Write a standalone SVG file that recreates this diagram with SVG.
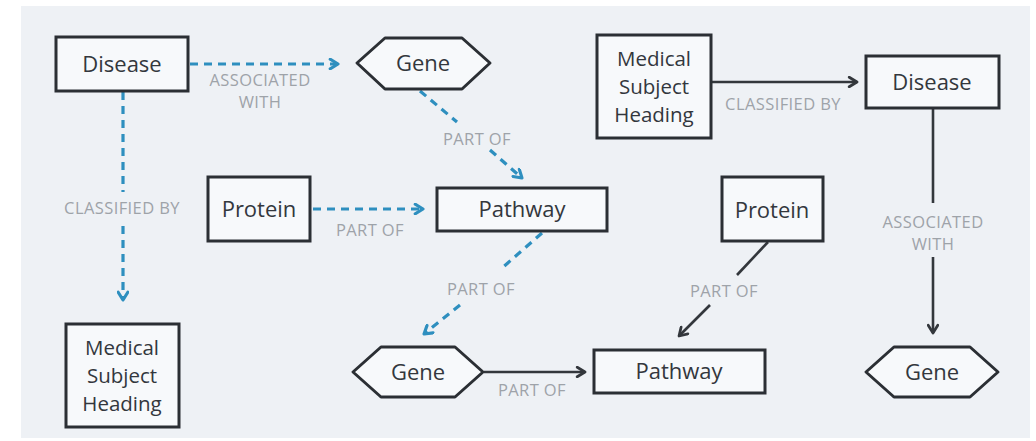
<svg xmlns="http://www.w3.org/2000/svg" width="1036" height="441" viewBox="0 0 1036 441">
<defs>
<style>
.box{fill:#f7f9fb;stroke:#2b2f34;stroke-width:3}
.nt{font-family:"Open Sans","Noto Sans",sans-serif;font-size:22px;font-weight:500;fill:#33373d;text-anchor:middle}
.ms{font-size:20.5px}
.lb{font-family:"Open Sans","Noto Sans",sans-serif;font-size:16.5px;font-weight:500;fill:#9ea3a9;text-anchor:middle;letter-spacing:0.4px}
.dash{fill:none;stroke:#2e8fbf;stroke-width:3.2;stroke-dasharray:8 6}
.solid{fill:none;stroke:#33373c;stroke-width:2.6}
</style>
<marker id="ab" viewBox="0 0 10 10" refX="8.5" refY="5" markerWidth="12" markerHeight="12" markerUnits="userSpaceOnUse" orient="auto">
<path d="M2,1 L8.5,5 L2,9" fill="none" stroke="#2e8fbf" stroke-width="2.6" stroke-linecap="round" stroke-linejoin="round"/>
</marker>
<marker id="ak" viewBox="0 0 10 10" refX="8.5" refY="5" markerWidth="12" markerHeight="12" markerUnits="userSpaceOnUse" orient="auto">
<path d="M2,1 L8.5,5 L2,9" fill="none" stroke="#33373c" stroke-width="2.3" stroke-linecap="round" stroke-linejoin="round"/>
</marker>
</defs>
<rect x="0" y="0" width="1036" height="441" fill="#ffffff"/>
<rect x="21" y="6" width="1009" height="432" fill="#eef1f5"/>

<g id="connectors">
<path class="dash" d="M190,64 H338" marker-end="url(#ab)"/>
<path class="dash" d="M123,92 V192"/>
<path class="dash" d="M123,226 V300" marker-end="url(#ab)"/>
<path class="dash" d="M420,91 L457,122"/>
<path class="dash" d="M490,150 L522,178" marker-end="url(#ab)"/>
<path class="dash" d="M313,209 H423" marker-end="url(#ab)"/>
<path class="dash" d="M542,233 L502,268"/>
<path class="dash" d="M460,305 L424,334" marker-end="url(#ab)"/>
<path class="solid" d="M484,372 H585" marker-end="url(#ak)"/>
<path class="solid" d="M768,242 L737,275"/>
<path class="solid" d="M710,305 L679,336" marker-end="url(#ak)"/>
<path class="solid" d="M712,82 H857" marker-end="url(#ak)"/>
<path class="solid" d="M933,109 V203"/>
<path class="solid" d="M933,257 V333" marker-end="url(#ak)"/>
</g>

<g id="labels">
<text class="lb" x="260" y="86">ASSOCIATED</text>
<text class="lb" x="260" y="108">WITH</text>
<text class="lb" x="122" y="214">CLASSIFIED BY</text>
<text class="lb" x="477" y="145">PART OF</text>
<text class="lb" x="370" y="236">PART OF</text>
<text class="lb" x="481" y="295">PART OF</text>
<text class="lb" x="532" y="396">PART OF</text>
<text class="lb" x="724" y="297">PART OF</text>
<text class="lb" x="783" y="110">CLASSIFIED BY</text>
<text class="lb" x="933" y="228">ASSOCIATED</text>
<text class="lb" x="933" y="250">WITH</text>
</g>

<g id="disease-left">
<rect class="box" x="56" y="37" width="132" height="54"/>
<text class="nt" x="122" y="72">Disease</text>
</g>
<g id="gene-top">
<polygon class="box" points="357,63 385,38 462,38 490,63 462,89 385,89" stroke-linejoin="round"/>
<text class="nt" x="423" y="71">Gene</text>
</g>
<g id="mesh-left">
<rect class="box" x="66" y="324" width="113" height="103"/>
<text class="nt ms" x="122" y="355">Medical</text>
<text class="nt ms" x="122" y="383">Subject</text>
<text class="nt ms" x="122" y="411">Heading</text>
</g>
<g id="protein-left">
<rect class="box" x="208" y="177" width="102" height="64"/>
<text class="nt" x="259" y="217">Protein</text>
</g>
<g id="pathway-mid">
<rect class="box" x="437" y="188" width="170" height="43"/>
<text class="nt" x="522" y="217">Pathway</text>
</g>
<g id="gene-bottom">
<polygon class="box" points="353,372 381,347 455,347 483,372 455,397 381,397" stroke-linejoin="round"/>
<text class="nt" x="418" y="380">Gene</text>
</g>
<g id="pathway-bottom">
<rect class="box" x="594" y="350" width="171" height="43"/>
<text class="nt" x="679" y="379">Pathway</text>
</g>
<g id="mesh-right">
<rect class="box" x="597" y="35" width="114" height="103"/>
<text class="nt ms" x="654" y="66">Medical</text>
<text class="nt ms" x="654" y="94">Subject</text>
<text class="nt ms" x="654" y="122">Heading</text>
</g>
<g id="disease-right">
<rect class="box" x="866" y="56" width="133" height="52"/>
<text class="nt" x="932" y="90">Disease</text>
</g>
<g id="protein-right">
<rect class="box" x="722" y="177" width="101" height="64"/>
<text class="nt" x="772" y="218">Protein</text>
</g>
<g id="gene-right">
<polygon class="box" points="866,372 894,347 970,347 998,372 970,397 894,397" stroke-linejoin="round"/>
<text class="nt" x="932" y="380">Gene</text>
</g>
</svg>
